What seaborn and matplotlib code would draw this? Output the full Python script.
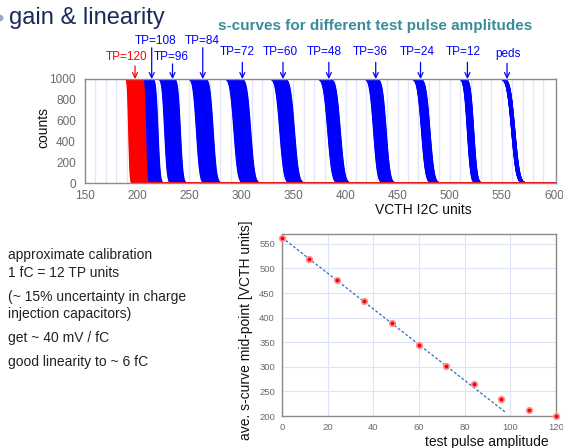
import math
import numpy as np
import pandas as pd
import matplotlib
matplotlib.use("Agg")
import matplotlib.pyplot as plt
from matplotlib.patches import Circle
import seaborn as sns

# ---------------- data ----------------
tp_values = [120, 108, 96, 84, 72, 60, 48, 36, 24, 12, 0]
midpoints = [200, 213, 234, 265, 301, 344, 389, 433, 477, 520, 561]
band_spread = [16, 14, 15, 16, 16, 14, 12, 12, 8, 6, 3]
curve_sigma = [1.0, 1.7, 2.0, 2.6, 3.0, 3.2, 3.3, 3.0, 3.2, 2.6, 3.6]
tp_labels = ["TP=120", "TP=108", "TP=96", "TP=84", "TP=72", "TP=60",
             "TP=48", "TP=36", "TP=24", "TP=12", "peds"]
arrow_x = [198, 214, 234, 263, 301, 340, 384, 429, 472, 517, 555]
label_x = [190, 218, 233, 263, 296, 337, 380, 424, 469, 513, 556]
label_y = [1.207, 1.365, 1.207, 1.365, 1.26, 1.26, 1.26, 1.26, 1.26, 1.26, 1.24]
arrow_start = [1.125, 1.30, 1.145, 1.30, 1.16, 1.16, 1.16, 1.16, 1.16, 1.16, 1.15]
n_channels = 40
fit_range_end = 98
notes = ["approximate calibration", "1 fC = 12 TP units",
         "(~ 15% uncertainty in charge", "injection capacitors)",
         "get ~ 40 mV / fC", "good linearity to ~ 6 fC"]
notes_y = [255, 273, 297, 314, 338, 362]

# --------------- style ----------------
sns.set_style("white")
plt.rcParams['font.family'] = ['Liberation Sans', 'DejaVu Sans']

W, H = 563, 448
fig = plt.figure(figsize=(W / 100, H / 100), dpi=100)

def fx(px):
    return px / W

def fy(py):
    return 1 - py / H

erfc_v = np.vectorize(math.erfc)

# --------------- top panel: s-curves ---------------
rows = []
for tp, mu0, spr, s in zip(tp_values, midpoints, band_spread, curve_sigma):
    for ch, off in enumerate(np.linspace(-0.5, 0.5, n_channels)):
        mu = mu0 + off * spr
        xs = np.concatenate([[140.0], np.linspace(mu - 4 * s - 1, mu + 4 * s + 1, 40), [610.0]])
        ys = 500.0 * erfc_v((xs - mu) / (s * math.sqrt(2)))
        for xv, yv in zip(xs, ys):
            rows.append((tp, ch, xv, yv))
df = pd.DataFrame(rows, columns=["tp", "ch", "vcth", "counts"])

ax1 = fig.add_axes([fx(85), fy(183), fx(556 - 85), (183 - 79) / H])
for xv in range(160, 600, 10):
    ax1.axvline(xv, color="#e4e4fb", lw=0.9, zorder=0)
sns.lineplot(data=df[df.tp != 120], x="vcth", y="counts", units="ch",
             estimator=None, hue="tp", palette=["#0000ff"] * 10,
             legend=False, lw=0.9, ax=ax1, sort=False)
sns.lineplot(data=df[df.tp == 120], x="vcth", y="counts", units="ch",
             estimator=None, color="#ff0000", lw=0.9, ax=ax1, sort=False)
ax1.set_xlim(150, 602)
ax1.set_ylim(0, 1000)
ax1.set_xticks(range(150, 601, 50))
ax1.set_yticks(range(0, 1001, 200))
ax1.set_xlabel("")
ax1.set_ylabel("")
ax1.tick_params(axis="both", labelsize=8.5, labelcolor="#6a6a6a",
                direction="out", length=3, color="#808080", width=0.8)
ax1.tick_params(axis="x", pad=2)
for sp in ax1.spines.values():
    sp.set_color("#8a8a8a")
    sp.set_linewidth(1.0)

xtrans = ax1.get_xaxis_transform()
for lab, ax_, lx, ly, ys in zip(tp_labels, arrow_x, label_x, label_y, arrow_start):
    col = "#ff0000" if lab == "TP=120" else "#0000ff"
    ax1.annotate("", xy=(ax_, 1.0), xycoords=xtrans, xytext=(ax_, ys),
                 textcoords=xtrans,
                 arrowprops=dict(arrowstyle="->", color=col, lw=0.9,
                                 shrinkA=0, shrinkB=0, mutation_scale=9),
                 annotation_clip=False)
    ax1.text(lx, ly, lab, transform=xtrans, ha="center", va="center",
             color=col, fontsize=8.5, clip_on=False)

fig.text(fx(43), fy(128), "counts", rotation=90, ha="center", va="center",
         fontsize=10, color="#111111")
fig.text(fx(423), fy(210), "VCTH I2C units", ha="center", va="center",
         fontsize=10, color="#111111")

# --------------- bottom panel: linearity ---------------
lin = pd.DataFrame({"tp": tp_values, "mid": midpoints}).sort_values("tp")
lin_part = lin[lin.tp <= 72]
slope, icpt = np.polyfit(lin_part.tp, lin_part.mid, 1)
fit_df = pd.DataFrame({"tp": [0, fit_range_end],
                       "mid": [icpt, icpt + slope * fit_range_end]})

ax2 = fig.add_axes([fx(282), fy(416), fx(556 - 282), (416 - 234) / H])
ax2.grid(True, color="#dde3f6", lw=0.8)
ax2.set_axisbelow(True)
sns.lineplot(data=fit_df, x="tp", y="mid", ax=ax2, color="#2f6cc0",
             lw=0.9, linestyle=(0, (2.2, 1.6)))
sc = sns.scatterplot(data=lin, x="tp", y="mid", ax=ax2, color="#ff0000",
                     s=16, edgecolor="#ff9090", linewidth=1.2, zorder=5)
for c in sc.collections:
    c.set_clip_on(False)
ax2.set_xlim(0, 120)
ax2.set_ylim(200, 570)
ax2.set_xticks(range(0, 121, 20))
ax2.set_yticks(range(200, 551, 50))
ax2.set_xlabel("")
ax2.set_ylabel("")
ax2.tick_params(axis="both", labelsize=6.8, labelcolor="#6a6a6a",
                direction="out", length=3, color="#808080", width=0.8, pad=2)
for sp in ax2.spines.values():
    sp.set_color("#8a8a8a")
    sp.set_linewidth(1.0)

fig.text(fx(246), fy(330), "ave. s-curve mid-point [VCTH units]", rotation=90,
         ha="center", va="center", fontsize=10, color="#111111")
fig.text(fx(487), fy(442), "test pulse amplitude", ha="center", va="center",
         fontsize=10, color="#111111")

# --------------- slide texts ---------------
fig.text(fx(9), fy(18), "gain & linearity", ha="left", va="center",
         fontsize=17, color="#1c2a5a")
fig.patches.append(Circle((fx(-1), fy(18)), radius=4.5 / W, transform=fig.transFigure,
                          facecolor="#9aa6c8", edgecolor="none"))
fig.text(fx(375), fy(26), "s-curves for different test pulse amplitudes",
         ha="center", va="center", fontsize=11, fontweight="bold",
         color="#3a8c9c")
for t, yy in zip(notes, notes_y):
    fig.text(fx(8), fy(yy), t, ha="left", va="center", fontsize=10,
             color="#222222")

fig.savefig("out.png", dpi=100)
